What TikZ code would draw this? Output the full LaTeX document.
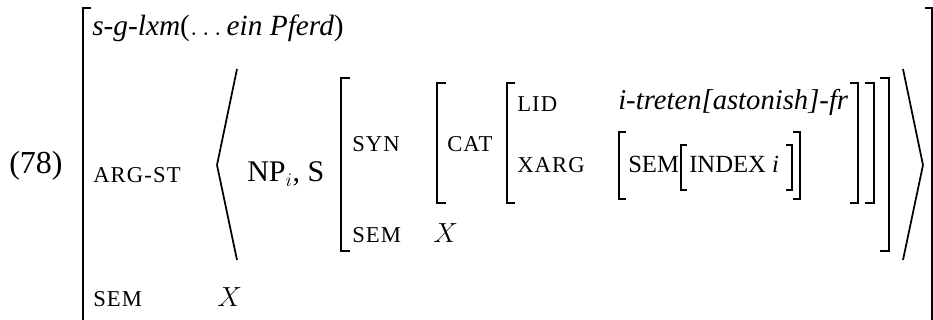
\documentclass[tikz,border=0pt]{standalone}
\usepackage{fontspec}
\setmainfont{Liberation Serif}
\newfontfamily\scfont[LetterSpace=5]{Liberation Serif}
\usepackage{tikz}
\usetikzlibrary{positioning}

\begin{document}
\begin{tikzpicture}[
  x=0.75pt, y=-0.75pt,
  every node/.style={inner sep=0pt, anchor=base west, font=\fontsize{21}{24}\selectfont},
  feat/.style={font=\scfont\fontsize{17}{20}\selectfont},
  small/.style={font=\fontsize{18.5}{20}\selectfont},
  typ/.style={font=\fontsize{22}{24}\selectfont},
  brk/.style={line width=1.5pt},
  sbrk/.style={line width=1.1pt},
  angl/.style={line width=1.3pt}
]
  \useasboundingbox (0,0) rectangle (933,320);

  % Example number
  \node (num) at (9,174) {\fontsize{24}{28}\selectfont(78)};

  % Outer matrix
  \node[typ] (type) at (92,36) {\textit{s-g-lxm}($\ldots$\,\textit{ein Pferd})};
  \node[feat] (argst) at (93,183) {ARG-ST};
  \node[feat] (sem) at (93,307) {SEM};
  \node (semval) at (217,307) {$X$};
  \draw[brk] (91,8) -- (83,8) -- (83,330);
  \draw[brk] (925,8) -- (932,8) -- (932,330);

  % List
  \draw[angl] (237,69) -- (217,165) -- (237,260);
  \draw[angl] (903,69) -- (923,165) -- (903,260);
  \node[font=\fontsize{22.5}{24}\selectfont] (np) at (247,182) {NP$_i$, S};

  % S matrix
  \node[feat] (syn) at (352,152) {SYN};
  \node[feat] (ssem) at (352,243) {SEM};
  \node (ssemval) at (433,243) {$X$};
  \draw[brk] (350,78) -- (341,78) -- (341,251) -- (350,251);
  \draw[brk] (880,78) -- (889,78) -- (889,251) -- (880,251);

  % CAT
  \node[feat] (cat) at (447,152) {CAT};
  \draw[brk] (446,83) -- (437,83) -- (437,203) -- (446,203);
  \draw[brk] (865,83) -- (874,83) -- (874,203) -- (865,203);

  % LID and XARG
  \node[feat] (lid) at (517,112) {LID};
  \node[feat] (xarg) at (517,173) {XARG};
  \node[font=\fontsize{21.5}{24}\selectfont] (lidval) at (618,110) {\textit{i-treten[astonish]-fr}};
  \draw[brk] (515,83) -- (507,83) -- (507,203) -- (515,203);
  \draw[brk] (850,83) -- (858,83) -- (858,203) -- (850,203);

  % XARG value
  \node[small] (xsem) at (628,173) {SEM};
  \node[small] (index) at (689,173) {INDEX \textit{i}};
  \draw[sbrk] (626,132) -- (619,132) -- (619,199) -- (626,199);
  \draw[sbrk] (793,132) -- (800,132) -- (800,199) -- (793,199);
  \draw[sbrk] (687,145) -- (681,145) -- (681,190) -- (687,190);
  \draw[sbrk] (786,145) -- (792,145) -- (792,190) -- (786,190);
\end{tikzpicture}
\end{document}
